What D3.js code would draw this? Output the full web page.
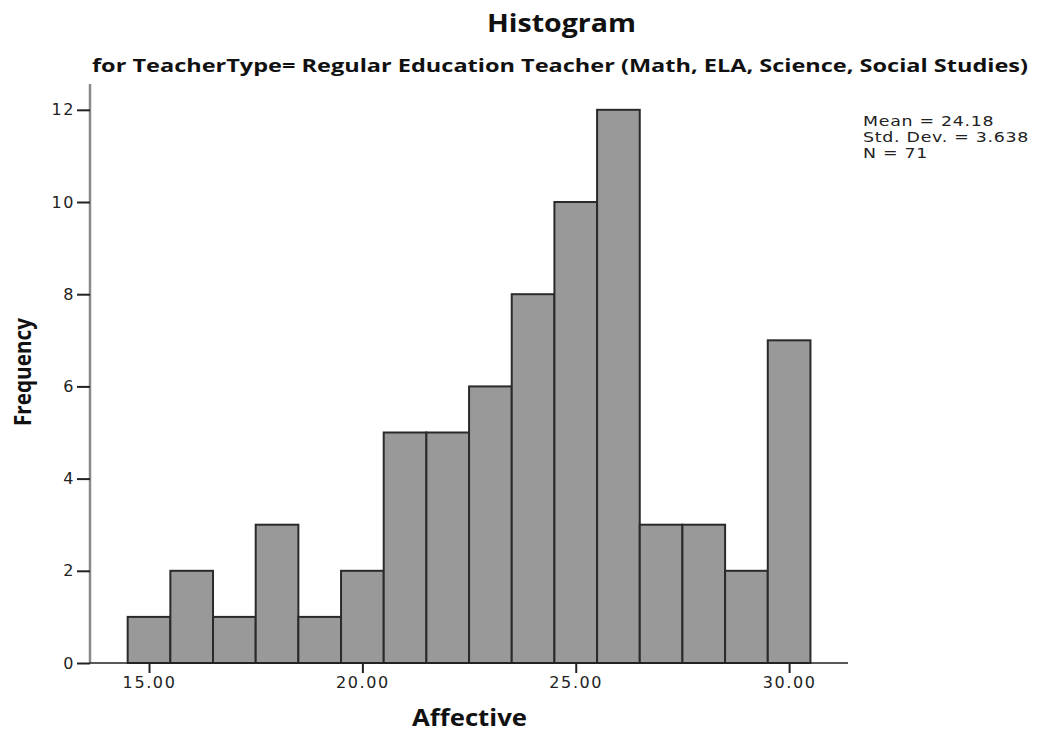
<!DOCTYPE html>
<html>
<head>
<meta charset="utf-8">
<script src="https://cdn.jsdelivr.net/npm/d3@7"></script>
<style>
  html, body { margin: 0; padding: 0; background: #fff; }
  svg { display: block; }
  .tick text { font-family: "DejaVu Sans", sans-serif; font-size: 16px; fill: #222; letter-spacing: 1.6px; }
</style>
</head>
<body>
<svg id="chart" width="1037" height="740"></svg>
<script>
// Histogram of Affective scores, bins of width 1 centred on integers
const binCenters = [15, 16, 17, 18, 19, 20, 21, 22, 23, 24, 25, 26, 27, 28, 29, 30];
const frequencies = [1, 2, 1, 3, 1, 2, 5, 5, 6, 8, 10, 12, 3, 3, 2, 7];
const xTicks = [15, 20, 25, 30];
const yTicks = [0, 2, 4, 6, 8, 10, 12];
const statsLines = ["Mean = 24.18", "Std. Dev. = 3.638", "N = 71"];
const titleText = "Histogram";
const subtitleText = "for TeacherType= Regular Education Teacher (Math, ELA, Science, Social Studies)";
const xLabel = "Affective";
const yLabel = "Frequency";

const svg = d3.select("#chart");
const plotLeft = 90, plotRight = 848, plotBottom = 663, plotTop = 84;

const x = d3.scaleLinear().domain([13.617, 31.38]).range([plotLeft, plotRight]);
const y = d3.scaleLinear().domain([0, 12.56]).range([plotBottom, plotTop]);

// bars
svg.append("g").selectAll("rect")
  .data(binCenters.map((c, i) => ({ c, f: frequencies[i] })))
  .join("rect")
  .attr("x", d => x(d.c - 0.5))
  .attr("width", d => x(d.c + 0.5) - x(d.c - 0.5))
  .attr("y", d => y(d.f))
  .attr("height", d => y(0) - y(d.f))
  .attr("fill", "#999999")
  .attr("stroke", "#2a2a2a")
  .attr("stroke-width", 2);

// y axis
const yAxis = svg.append("g")
  .attr("transform", `translate(${plotLeft},0)`)
  .call(d3.axisLeft(y).tickValues(yTicks).tickFormat(d3.format("d")).tickSize(13).tickPadding(2));
yAxis.select(".domain").attr("stroke", "#8a8a8a").attr("stroke-width", 2.5).attr("d", `M0,${plotTop}V${plotBottom}`);
yAxis.selectAll(".tick line").attr("stroke", "#222").attr("stroke-width", 2);

// x axis
const xAxis = svg.append("g")
  .attr("transform", `translate(0,${plotBottom})`)
  .call(d3.axisBottom(x).tickValues(xTicks).tickFormat(d3.format(".2f")).tickSize(10).tickPadding(4));
xAxis.select(".domain").attr("stroke", "#222").attr("stroke-width", 1.5).attr("d", `M${plotLeft},0H${plotRight}`);
xAxis.selectAll(".tick line").attr("stroke", "#222").attr("stroke-width", 2);

// titles
svg.append("text")
  .attr("x", 487).attr("y", 32)
  .attr("font-family", "'Open Sans', sans-serif")
  .attr("font-weight", "bold")
  .attr("font-size", 25)
  .attr("fill", "#111")
  .attr("textLength", 149)
  .attr("lengthAdjust", "spacingAndGlyphs")
  .text(titleText);

svg.append("text")
  .attr("x", 92).attr("y", 72)
  .attr("font-family", "'Open Sans', sans-serif")
  .attr("font-weight", "bold")
  .attr("font-size", 18)
  .attr("fill", "#111")
  .attr("textLength", 936)
  .attr("lengthAdjust", "spacingAndGlyphs")
  .text(subtitleText);

// axis titles
svg.append("text")
  .attr("x", 412).attr("y", 726)
  .attr("font-family", "'Open Sans', sans-serif")
  .attr("font-weight", "bold")
  .attr("font-size", 24)
  .attr("fill", "#111")
  .attr("textLength", 115)
  .attr("lengthAdjust", "spacingAndGlyphs")
  .text(xLabel);

svg.append("text")
  .attr("transform", "translate(31,426) rotate(-90)")
  .attr("font-family", "'Open Sans', sans-serif")
  .attr("font-weight", "bold")
  .attr("font-size", 23)
  .attr("fill", "#111")
  .attr("textLength", 108)
  .attr("lengthAdjust", "spacingAndGlyphs")
  .text(yLabel);

// summary statistics, drawn slightly widened
svg.append("g")
  .attr("transform", "translate(863,0) scale(1.2,1)")
  .selectAll("text")
  .data(statsLines)
  .join("text")
  .attr("x", 0)
  .attr("y", (d, i) => 126 + i * 16.2)
  .attr("font-family", "'DejaVu Sans', sans-serif")
  .attr("font-size", 14.5)
  .attr("letter-spacing", 0.6)
  .attr("fill", "#222")
  .text(d => d);
</script>
</body>
</html>
